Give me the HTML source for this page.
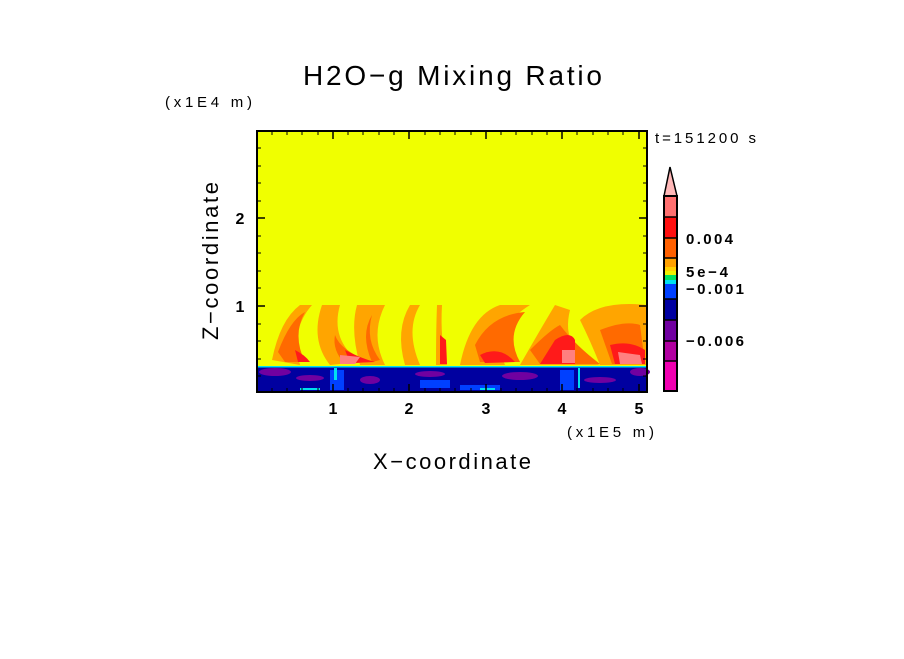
<!DOCTYPE html>
<html><head><style>
body{margin:0;background:#fff;}
svg text{font-family:"Liberation Sans",sans-serif;fill:#000;}
</style></head><body>
<svg width="904" height="654" viewBox="0 0 904 654" xmlns="http://www.w3.org/2000/svg">
<rect width="904" height="654" fill="#fff"/>
<text x="303" y="85" font-size="28" textLength="299" lengthAdjust="spacing">H2O−g Mixing Ratio</text>
<text x="165" y="107" font-size="15" textLength="87" lengthAdjust="spacing">(x1E4 m)</text>
<text x="655" y="143" font-size="15" textLength="101" lengthAdjust="spacing">t=151200 s</text>
<!-- plot -->
<rect x="257" y="131" width="390" height="261" fill="#f0ff00"/>
<g fill="#ffa500">
<path d="M272 360 Q280 320 300 305 L312 305 Q290 330 300 365 Z"/>
<path d="M322 305 L340 305 Q330 340 360 362 L330 365 Q310 340 322 305 Z"/>
<path d="M357 305 L385 305 Q370 335 385 365 L360 365 Q350 330 357 305 Z"/>
<path d="M410 305 L420 305 Q405 330 420 365 L405 365 Q395 330 410 305 Z"/>
<path d="M437 305 L442 305 Q440 340 447 365 L436 365 Q436 330 437 305 Z"/>
<path d="M460 365 Q470 315 500 305 L530 305 Q490 330 505 365 Z"/>
<path d="M520 365 Q540 330 555 305 L570 310 Q560 350 600 365 Z"/>
<path d="M580 320 Q600 300 647 305 L647 365 L600 365 Q590 340 580 320 Z"/>
</g>
<g fill="#ff6a00">
<path d="M278 352 Q290 320 305 312 Q292 335 305 362 L285 362 Z"/>
<path d="M335 335 Q340 350 370 362 L345 364 Q332 350 335 335 Z"/>
<path d="M372 315 Q365 340 380 360 L372 362 Q360 335 372 315 Z"/>
<path d="M475 345 Q490 315 525 312 Q505 335 520 362 L480 362 Z"/>
<path d="M530 350 Q550 330 560 325 Q575 345 600 364 L540 364 Z"/>
<path d="M600 330 Q625 320 640 325 L645 364 L612 364 Z"/>
</g>
<g fill="#ff1a1a">
<path d="M295 350 Q305 355 310 362 L298 362 Z"/>
<path d="M345 350 Q360 358 375 362 L350 363 Z"/>
<path d="M440 335 L446 340 L447 364 L440 364 Z"/>
<path d="M480 355 Q500 345 515 362 L485 363 Z"/>
<path d="M555 340 Q570 330 575 340 L575 364 L540 364 Z"/>
<path d="M610 345 Q630 340 645 350 L645 364 L615 364 Z"/>
</g>
<g fill="#ff8080">
<path d="M340 355 L360 357 L355 364 L340 364 Z"/>
<path d="M562 350 L575 350 L575 363 L562 363 Z"/>
<path d="M618 352 L640 355 L642 364 L620 364 Z"/>
</g>
<rect x="257" y="366" width="390" height="26" fill="#0000a0"/>
<g fill="#7000a0">
<ellipse cx="275" cy="372" rx="16" ry="4"/><ellipse cx="310" cy="378" rx="14" ry="3"/>
<ellipse cx="370" cy="380" rx="10" ry="4"/><ellipse cx="430" cy="374" rx="15" ry="3"/>
<ellipse cx="520" cy="376" rx="18" ry="4"/><ellipse cx="600" cy="380" rx="16" ry="3"/>
<ellipse cx="640" cy="372" rx="10" ry="4"/>
</g>
<g fill="#0040ff">
<rect x="330" y="370" width="14" height="20"/><rect x="420" y="380" width="30" height="8"/>
<rect x="560" y="370" width="14" height="20"/><rect x="460" y="385" width="40" height="5"/>
</g>
<g fill="#00e0f0">
<rect x="257" y="366" width="390" height="1.5"/>
<rect x="334" y="368" width="3" height="12"/><rect x="578" y="368" width="2" height="20"/>
<rect x="300" y="388" width="20" height="2"/><rect x="480" y="388" width="15" height="2"/>
</g>
<rect x="257" y="131" width="390" height="261" fill="none" stroke="#000" stroke-width="2"/>
<g stroke="#000" stroke-width="1.5">
<path d="M333 131v8M409 131v8M486 131v8M562 131v8M639 131v8M333 392v-8M409 392v-8M486 392v-8M562 392v-8M639 392v-8"/>
<path d="M257 218h8M257 306h8M647 218h-8M647 306h-8"/>
</g>
<g stroke="#000" stroke-width="1">
<path d="M272 131v4M287 131v4M302 131v4M318 131v4M348 131v4M363 131v4M379 131v4M394 131v4M425 131v4M440 131v4M455 131v4M471 131v4M501 131v4M516 131v4M532 131v4M547 131v4M577 131v4M593 131v4M608 131v4M623 131v4"/>
<path d="M272 392v-4M287 392v-4M302 392v-4M318 392v-4M348 392v-4M363 392v-4M379 392v-4M394 392v-4M425 392v-4M440 392v-4M455 392v-4M471 392v-4M501 392v-4M516 392v-4M532 392v-4M547 392v-4M577 392v-4M593 392v-4M608 392v-4M623 392v-4"/>
<path d="M257 148h4M257 166h4M257 183h4M257 201h4M257 236h4M257 253h4M257 271h4M257 288h4M257 324h4M257 341h4M257 359h4M257 376h4"/>
<path d="M647 148h-4M647 166h-4M647 183h-4M647 201h-4M647 236h-4M647 253h-4M647 271h-4M647 288h-4M647 324h-4M647 341h-4M647 359h-4M647 376h-4"/>
</g>
<g font-size="16" text-anchor="middle" font-weight="bold">
<text x="333" y="414">1</text><text x="409" y="414">2</text><text x="486" y="414">3</text><text x="562" y="414">4</text><text x="639" y="414">5</text>
</g>
<text x="240" y="224" font-size="16" text-anchor="middle" font-weight="bold">2</text>
<text x="240" y="312" font-size="16" text-anchor="middle" font-weight="bold">1</text>
<text x="567" y="437" font-size="15" textLength="87" lengthAdjust="spacing">(x1E5 m)</text>
<text x="373" y="469" font-size="22" textLength="158" lengthAdjust="spacing">X−coordinate</text>
<text transform="translate(218 340) rotate(-90)" font-size="22" textLength="158" lengthAdjust="spacing">Z−coordinate</text>
<!-- colorbar -->
<path d="M664 196 L670 167 L677 196 Z" fill="#ffb8b8" stroke="#000" stroke-width="1.5"/>
<rect x="664" y="196" width="13" height="21" fill="#ff7070"/>
<rect x="664" y="217" width="13" height="21" fill="#ff1010"/>
<rect x="664" y="238" width="13" height="20" fill="#ff6000"/>
<rect x="664" y="258" width="13" height="9" fill="#ffa000"/>
<rect x="664" y="267" width="13" height="4" fill="#ffd000"/>
<rect x="664" y="271" width="13" height="4" fill="#f0f000"/>
<rect x="664" y="275" width="13" height="5" fill="#00e060"/>
<rect x="664" y="280" width="13" height="4" fill="#00e0f0"/>
<rect x="664" y="284" width="13" height="15" fill="#0040ff"/>
<rect x="664" y="299" width="13" height="21" fill="#0000a0"/>
<rect x="664" y="320" width="13" height="21" fill="#7000a0"/>
<rect x="664" y="341" width="13" height="20" fill="#b000a0"/>
<rect x="664" y="361" width="13" height="30" fill="#f000b0"/>
<rect x="664" y="196" width="13" height="195" fill="none" stroke="#000" stroke-width="2"/>
<path d="M664 217h13M664 238h13M664 258h13M664 299h13M664 320h13M664 341h13M664 361h13" stroke="#000" stroke-width="1.5"/>
<g font-size="15" font-weight="bold">
<text x="686" y="244" textLength="47" lengthAdjust="spacing">0.004</text>
<text x="686" y="277" textLength="42" lengthAdjust="spacing">5e−4</text>
<text x="686" y="294" textLength="58" lengthAdjust="spacing">−0.001</text>
<text x="686" y="346" textLength="58" lengthAdjust="spacing">−0.006</text>
</g>
</svg>
</body></html>
